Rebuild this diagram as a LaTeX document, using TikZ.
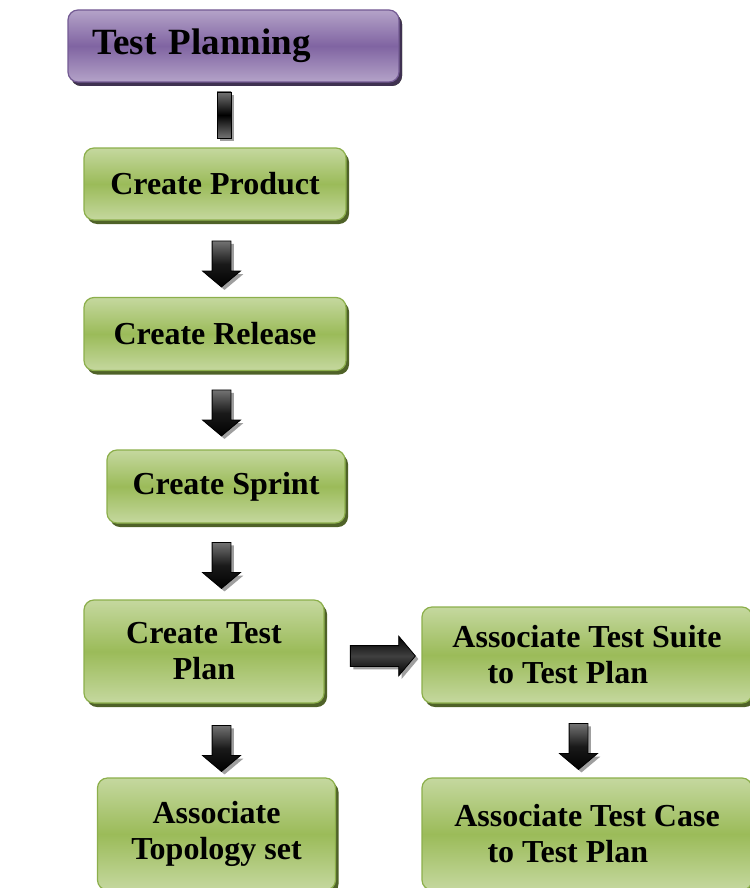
\documentclass[tikz,border=0pt]{standalone}
\usepackage{fontspec}
\setmainfont{Liberation Serif}
\usetikzlibrary{shapes.arrows,shadows}

\definecolor{grnTop}{HTML}{C5D89F}
\definecolor{grnMid}{HTML}{9BBB59}
\definecolor{grnLine}{HTML}{8CAF4B}
\definecolor{grnShade}{HTML}{4F6228}
\definecolor{purTop}{HTML}{B4A3C8}
\definecolor{purMid}{HTML}{8064A2}
\definecolor{purLine}{HTML}{735A93}
\definecolor{purShade}{HTML}{3F3151}

\begin{document}
\begin{tikzpicture}[
  x=1pt, y=-1pt,
  stepbox/.style={draw=grnLine, line width=1.2pt, rounded corners=10pt,
                  align=center, inner sep=0pt,
                  top color=grnTop, bottom color=grnTop, middle color=grnMid,
                  font=\fontsize{32}{36}\selectfont\bfseries,
                  drop shadow={shadow xshift=3pt, shadow yshift=-4pt,
                               fill=grnShade, opacity=1}},
  titlebox/.style={stepbox, draw=purLine,
                   top color=purTop, bottom color=purTop, middle color=purMid,
                   font=\fontsize{37}{42}\selectfont\bfseries,
                   drop shadow={shadow xshift=3pt, shadow yshift=-4pt,
                                fill=purShade, opacity=1}},
  darr/.style={single arrow, draw=black, line width=0.8pt, inner sep=9pt,
               single arrow head extend=9.5pt, single arrow tip angle=100,
               minimum height=46pt, shape border rotate=270,
               top color=black!55, bottom color=black, middle color=black!90,
               drop shadow={shadow xshift=3pt, shadow yshift=-3pt,
                            fill=gray!75, opacity=1}},
  rarr/.style={darr, inner sep=10pt, minimum height=65pt, shape border rotate=0,
               top color=black, bottom color=black, middle color=black!75},
  bar/.style={draw=black, line width=0.8pt, minimum width=14pt,
              minimum height=46pt, inner sep=0pt,
              top color=black!55, bottom color=black!55, middle color=black,
              drop shadow={shadow xshift=3pt, shadow yshift=-3pt,
                           fill=gray!75, opacity=1}}
]
\useasboundingbox (0,0) rectangle (749,888);

% ---------- boxes ----------
\node[titlebox, text width=283pt, align=left, inner xsep=24pt, minimum height=72pt]
      (plan) at (233.5,46) {Test Planning};
\node[stepbox, minimum width=262pt, minimum height=72pt] (prod) at (215,184) {Create Product};
\node[stepbox, minimum width=262pt, minimum height=73pt] (rel)  at (215,334) {Create Release};
\node[stepbox, minimum width=238pt, minimum height=73pt] (spr)  at (226,486.5) {Create Sprint};
\node[stepbox, minimum width=240pt, minimum height=103pt] (tplan) at (204,651.5) {Create Test\\Plan};
\node[stepbox, minimum width=330pt, minimum height=96pt] (suite) at (587,655) {Associate Test Suite\\to Test Plan\hspace*{1.2em}};
\node[stepbox, minimum width=238pt, minimum height=112pt] (topo) at (216.5,834) {Associate\\Topology set};
\node[stepbox, minimum width=330pt, minimum height=112pt] (tcase) at (587,834) {Associate Test Case\\to Test Plan\hspace*{1.2em}};

% ---------- block arrows between the boxes ----------
\node[bar]  (c0) at (224,115) {};
\node[darr] (c1) at (221.5,260) {};
\node[darr] (c2) at (221.5,409) {};
\node[darr] (c3) at (221.5,561.5) {};
\node[darr] (c4) at (221.5,744.5) {};
\node[rarr] (c5) at (378.5,656) {};
\node[darr] (c6) at (578.5,742.5) {};

\end{tikzpicture}
\end{document}
